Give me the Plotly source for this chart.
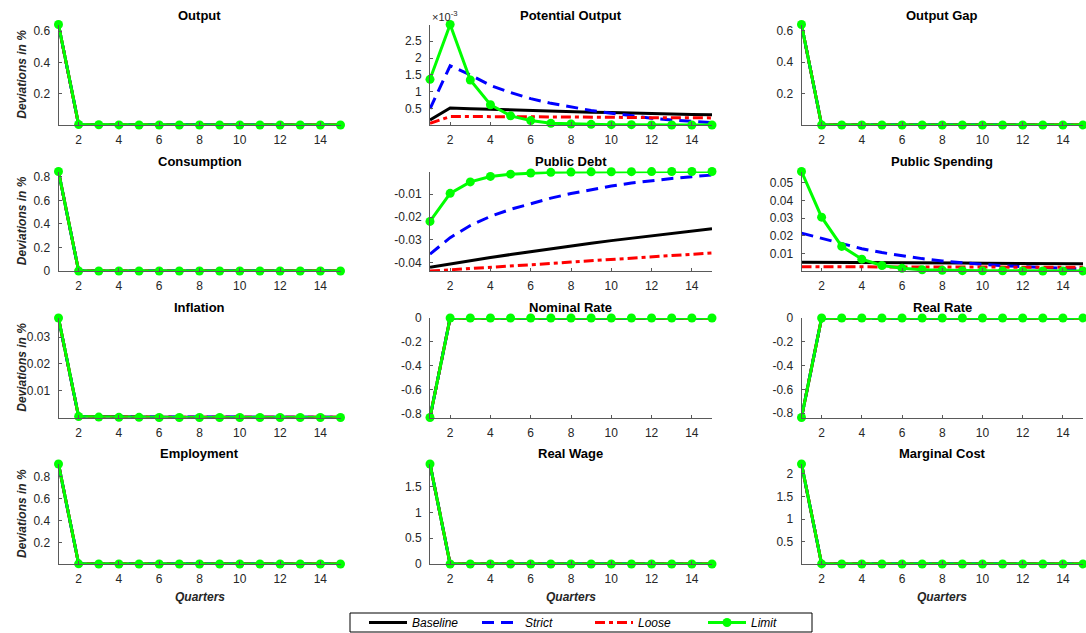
import math
import plotly.graph_objects as go

W, H = 1086, 633

quarters = list(range(1, 16))
series_names = ["Baseline", "Strict", "Loose", "Limit"]

# ---------------- data ----------------
output_baseline = [0.6405, 0.0006, 0.0005, 0.0005, 0.0005, 0.0005, 0.0004, 0.0004, 0.0004, 0.0004, 0.0004, 0.0004, 0.0003, 0.0003, 0.0003]
output_strict = [0.6410, 0.0018, 0.0015, 0.0012, 0.0010, 0.0008, 0.0007, 0.0006, 0.0005, 0.0004, 0.0003, 0.0002, 0.0002, 0.0001, 0.0001]
output_loose = [0.6401, 0.0003, 0.0003, 0.0003, 0.0003, 0.0003, 0.0003, 0.0003, 0.0002, 0.0002, 0.0002, 0.0002, 0.0002, 0.0002, 0.0002]
output_limit = [0.6420, 0.0030, 0.0014, 0.0006, 0.0003, 0.0002, 0.0001, 0.0001, 0.00005, 0.00004, 0.00004, 0.00003, 0.00003, 0.00003, 0.00003]

potential_baseline = [0.00017, 0.00052, 0.00050, 0.00048, 0.00046, 0.00045, 0.00043, 0.00042, 0.00040, 0.00039, 0.00037, 0.00036, 0.00035, 0.00033, 0.00032]
potential_strict = [0.00050, 0.00177, 0.00150, 0.00119, 0.00098, 0.00080, 0.00066, 0.00055, 0.00045, 0.00037, 0.00029, 0.00022, 0.00017, 0.00012, 0.00009]
potential_loose = [0.00007, 0.00027, 0.00027, 0.00027, 0.00026, 0.00026, 0.00026, 0.00025, 0.00025, 0.00025, 0.00024, 0.00024, 0.00024, 0.00023, 0.00023]
potential_limit = [0.00137, 0.00299, 0.00135, 0.00062, 0.00029, 0.00015, 0.00007, 0.00005, 0.00004, 0.00003, 0.00003, 0.00002, 0.00002, 0.00002, 0.00002]

gap_baseline = [0.6402, 0.0002, 0.0002, 0.0001, 0.0001, 0.0001, 0.0001, 0.0001, 0.0001, 0.0001, 0.0001, 0.0001, 0.0001, 0.0001, 0.0001]
gap_strict = [0.6402, 0.0002, 0.0002, 0.0001, 0.0001, 0.0001, 0.0001, 0.0001, 0.0001, 0.0001, 0.0001, 0.0001, 0.0001, 0.0001, 0.0001]
gap_loose = [0.6402, 0.0002, 0.0002, 0.0001, 0.0001, 0.0001, 0.0001, 0.0001, 0.0001, 0.0001, 0.0001, 0.0001, 0.0001, 0.0001, 0.0001]
gap_limit = [0.6403, 0.0002, 0.0001, 0.0001, 0.0001, 0.0001, 0.0001, 0.0001, 0.0001, 0.0001, 0.0001, 0.0001, 0.0001, 0.0001, 0.0001]

consumption_baseline = [0.8440, -0.0002, -0.0002, -0.0002, -0.0002, -0.0002, -0.0002, -0.0002, -0.0002, -0.0002, -0.0002, -0.0002, -0.0002, -0.0002, -0.0002]
consumption_strict = [0.8440, -0.0001, -0.0001, -0.0001, -0.0001, -0.0001, -0.0001, -0.0001, -0.0001, -0.0001, -0.0001, -0.0001, -0.0001, -0.0001, -0.0001]
consumption_loose = [0.8440, -0.0002, -0.0002, -0.0002, -0.0002, -0.0002, -0.0002, -0.0002, -0.0002, -0.0002, -0.0002, -0.0002, -0.0002, -0.0002, -0.0002]
consumption_limit = [0.8445, 0.0000, 0.0000, 0.0000, 0.0000, 0.0000, 0.0000, 0.0000, 0.0000, 0.0000, 0.0000, 0.0000, 0.0000, 0.0000, 0.0000]

debt_baseline = [-0.0420, -0.0405, -0.0391, -0.0377, -0.0364, -0.0351, -0.0339, -0.0327, -0.0315, -0.0303, -0.0292, -0.0281, -0.0271, -0.0261, -0.0251]
debt_strict = [-0.0362, -0.0290, -0.0237, -0.0197, -0.0166, -0.0140, -0.0117, -0.0097, -0.0080, -0.0064, -0.0051, -0.0040, -0.0031, -0.0023, -0.0016]
debt_loose = [-0.0436, -0.0431, -0.0425, -0.0420, -0.0414, -0.0409, -0.0403, -0.0397, -0.0391, -0.0386, -0.0380, -0.0374, -0.0368, -0.0363, -0.0357]
debt_limit = [-0.0219, -0.0096, -0.0046, -0.0022, -0.0012, -0.0007, -0.0004, -0.0003, -0.0002, -0.00015, -0.0001, -0.00008, -0.00006, -0.00005, -0.00004]

spending_baseline = [0.0050, 0.0050, 0.0049, 0.0049, 0.0048, 0.0048, 0.0047, 0.0046, 0.0046, 0.0045, 0.0045, 0.0044, 0.0043, 0.0043, 0.0042]
spending_strict = [0.0215, 0.0185, 0.0155, 0.0127, 0.0105, 0.0087, 0.0071, 0.0058, 0.0047, 0.0038, 0.0031, 0.0025, 0.0020, 0.0016, 0.0013]
spending_loose = [0.0025, 0.0025, 0.0025, 0.0024, 0.0024, 0.0024, 0.0024, 0.0023, 0.0023, 0.0023, 0.0023, 0.0022, 0.0022, 0.0022, 0.0022]
spending_limit = [0.0563, 0.0305, 0.0140, 0.0068, 0.0032, 0.0016, 0.0008, 0.0005, 0.0003, 0.0002, 0.0002, 0.0001, 0.0001, 0.0001, 0.0001]

inflation_baseline = [0.0370, 0.0003, 0.0003, 0.0002, 0.0002, 0.0002, 0.0001, 0.0001, 0.0001, 0.0001, 0.0001, 0.0001, 0.0001, 0.0001, 0.0001]
inflation_strict = [0.0369, 0.0004, 0.0003, 0.0003, 0.0002, 0.0002, 0.0002, 0.0001, 0.0001, 0.0001, 0.0001, 0.0001, 0.0001, 0.0001, 0.0001]
inflation_loose = [0.0370, 0.0002, 0.0002, 0.0002, 0.0002, 0.0002, 0.0001, 0.0001, 0.0001, 0.0001, 0.0001, 0.0001, 0.0001, 0.0001, 0.0001]
inflation_limit = [0.0371, 0.0004, 0.0002, 0.0001, 0.0001, 0.00005, 0.00005, 0.00004, 0.00004, 0.00004, 0.00004, 0.00004, 0.00004, 0.00004, 0.00004]

nominal_baseline = [-0.834, 0.00003, 0.00003, 0.00003, 0.00003, 0.00003, 0.00003, 0.00003, 0.00003, 0.00003, 0.00003, 0.00003, 0.00003, 0.00003, 0.00003]
nominal_strict = [-0.834, 0.00005, 0.00005, 0.00004, 0.00004, 0.00004, 0.00003, 0.00003, 0.00003, 0.00003, 0.00003, 0.00003, 0.00003, 0.00003, 0.00003]
nominal_loose = [-0.834, 0.00002, 0.00002, 0.00002, 0.00002, 0.00002, 0.00002, 0.00002, 0.00002, 0.00002, 0.00002, 0.00002, 0.00002, 0.00002, 0.00002]
nominal_limit = [-0.834, 0.00005, 0.00004, 0.00003, 0.00003, 0.00003, 0.00003, 0.00003, 0.00003, 0.00003, 0.00003, 0.00003, 0.00003, 0.00003, 0.00003]

real_baseline = [-0.836, 0.00003, 0.00003, 0.00003, 0.00003, 0.00003, 0.00003, 0.00003, 0.00003, 0.00003, 0.00003, 0.00003, 0.00003, 0.00003, 0.00003]
real_strict = [-0.836, 0.00005, 0.00004, 0.00004, 0.00004, 0.00003, 0.00003, 0.00003, 0.00003, 0.00003, 0.00003, 0.00003, 0.00003, 0.00003, 0.00003]
real_loose = [-0.836, 0.00002, 0.00002, 0.00002, 0.00002, 0.00002, 0.00002, 0.00002, 0.00002, 0.00002, 0.00002, 0.00002, 0.00002, 0.00002, 0.00002]
real_limit = [-0.836, 0.00005, 0.00004, 0.00003, 0.00003, 0.00003, 0.00003, 0.00003, 0.00003, 0.00003, 0.00003, 0.00003, 0.00003, 0.00003, 0.00003]

employment_baseline = [0.9150, 0.0026, 0.0025, 0.0024, 0.0024, 0.0023, 0.0023, 0.0022, 0.0022, 0.0022, 0.0021, 0.0021, 0.0021, 0.0021, 0.0020]
employment_strict = [0.9150, 0.0030, 0.0028, 0.0026, 0.0025, 0.0024, 0.0023, 0.0022, 0.0022, 0.0021, 0.0021, 0.0021, 0.0020, 0.0020, 0.0020]
employment_loose = [0.9150, 0.0024, 0.0024, 0.0023, 0.0023, 0.0023, 0.0022, 0.0022, 0.0022, 0.0021, 0.0021, 0.0021, 0.0021, 0.0020, 0.0020]
employment_limit = [0.9160, 0.0032, 0.0025, 0.0022, 0.0021, 0.0020, 0.0020, 0.0020, 0.0020, 0.0020, 0.0020, 0.0020, 0.0020, 0.0020, 0.0020]

wage_baseline = [1.9400, -0.0005, -0.0005, -0.0005, -0.0005, -0.0005, -0.0005, -0.0005, -0.0005, -0.0005, -0.0005, -0.0005, -0.0005, -0.0005, -0.0005]
wage_strict = [1.9400, -0.0003, -0.0003, -0.0003, -0.0003, -0.0003, -0.0003, -0.0003, -0.0003, -0.0003, -0.0003, -0.0003, -0.0003, -0.0003, -0.0003]
wage_loose = [1.9400, -0.0005, -0.0005, -0.0005, -0.0005, -0.0005, -0.0005, -0.0005, -0.0005, -0.0005, -0.0005, -0.0005, -0.0005, -0.0005, -0.0005]
wage_limit = [1.9410, 0.0000, 0.0000, 0.0000, 0.0000, 0.0000, 0.0000, 0.0000, 0.0000, 0.0000, 0.0000, 0.0000, 0.0000, 0.0000, 0.0000]

mc_baseline = [2.2200, 0.0060, 0.0058, 0.0056, 0.0055, 0.0054, 0.0053, 0.0052, 0.0052, 0.0051, 0.0051, 0.0051, 0.0050, 0.0050, 0.0050]
mc_strict = [2.2200, 0.0070, 0.0065, 0.0060, 0.0057, 0.0055, 0.0053, 0.0052, 0.0051, 0.0051, 0.0050, 0.0050, 0.0050, 0.0050, 0.0050]
mc_loose = [2.2200, 0.0055, 0.0054, 0.0053, 0.0053, 0.0052, 0.0052, 0.0051, 0.0051, 0.0051, 0.0050, 0.0050, 0.0050, 0.0050, 0.0050]
mc_limit = [2.2210, 0.0070, 0.0055, 0.0052, 0.0051, 0.0050, 0.0050, 0.0050, 0.0050, 0.0050, 0.0050, 0.0050, 0.0050, 0.0050, 0.0050]

panel_titles = ["Output", "Potential Output", "Output Gap",
                "Consumption", "Public Debt", "Public Spending",
                "Inflation", "Nominal Rate", "Real Rate",
                "Employment", "Real Wage", "Marginal Cost"]
panel_series = [
    [output_baseline, output_strict, output_loose, output_limit],
    [potential_baseline, potential_strict, potential_loose, potential_limit],
    [gap_baseline, gap_strict, gap_loose, gap_limit],
    [consumption_baseline, consumption_strict, consumption_loose, consumption_limit],
    [debt_baseline, debt_strict, debt_loose, debt_limit],
    [spending_baseline, spending_strict, spending_loose, spending_limit],
    [inflation_baseline, inflation_strict, inflation_loose, inflation_limit],
    [nominal_baseline, nominal_strict, nominal_loose, nominal_limit],
    [real_baseline, real_strict, real_loose, real_limit],
    [employment_baseline, employment_strict, employment_loose, employment_limit],
    [wage_baseline, wage_strict, wage_loose, wage_limit],
    [mc_baseline, mc_strict, mc_loose, mc_limit],
]
y_tick_steps = [0.2, 0.0005, 0.2, 0.2, 0.01, 0.01, 0.01, 0.2, 0.2, 0.2, 0.5, 0.5]
y_tick_scale = [1, 1000, 1, 1, 1, 1, 1, 1, 1, 1, 1, 1]
x_ticks = [2, 4, 6, 8, 10, 12, 14]
y_label = "Deviations in %"
x_label = "Quarters"

# ---------------- styling ----------------
FONT = "Liberation Sans"
AX_COLOR = "#5a5a5a"
TXT_COLOR = "#262626"
styles = [
    dict(line=dict(color="#000000", width=3), mode="lines"),
    dict(line=dict(color="#0000ff", width=3, dash="12px,7px"), mode="lines"),
    dict(line=dict(color="#ff0000", width=3, dash="10px,4px,4px,4px"), mode="lines"),
    dict(line=dict(color="#00ff00", width=3), mode="lines+markers",
         marker=dict(color="#00ff00", size=9, line=dict(width=0))),
]

col_px = [(58.5, 340.5), (430.0, 712.0), (801.5, 1083.0)]
row_px = [(24.5, 125.0), (171.5, 271.0), (318.0, 417.5), (464.0, 564.0)]
legend_box_px = (350, 613, 812, 632)


def fmt(v):
    s = ("%.6f" % v).rstrip("0").rstrip(".")
    if s in ("-0", ""):
        s = "0"
    return s


fig = go.Figure()
annotations = []

for i, (title, series) in enumerate(zip(panel_titles, panel_series)):
    r, c = divmod(i, 3)
    ax = "" if i == 0 else str(i + 1)
    x0, x1 = col_px[c]
    yt, yb = row_px[r]
    xdom = [x0 / W, x1 / W]
    ydom = [1 - yb / H, 1 - yt / H]

    for k, (name, ys) in enumerate(zip(series_names, series)):
        fig.add_trace(go.Scatter(
            x=quarters, y=ys, name="<i>%s</i>" % name, xaxis="x" + ax, yaxis="y" + ax,
            showlegend=(i == 0), cliponaxis=False, hoverinfo="skip", **styles[k]))

    ymin = min(min(s) for s in series)
    ymax = max(max(s) for s in series)
    step = y_tick_steps[i]
    kstart = math.ceil(ymin / step - 1e-9)
    kend = math.floor(ymax / step + 1e-9)
    tv = [k * step for k in range(kstart, kend + 1)]
    tt = [fmt(v * y_tick_scale[i]) for v in tv]

    fig.layout["xaxis" + ax] = dict(
        domain=xdom, anchor="y" + ax, range=[1, 15], tickvals=x_ticks,
        showline=True, linecolor=AX_COLOR, linewidth=1, ticks="inside", ticklen=3,
        tickcolor=AX_COLOR, showgrid=False, zeroline=False,
        tickfont=dict(family=FONT, size=12, color=TXT_COLOR), ticklabelstandoff=4)
    fig.layout["yaxis" + ax] = dict(
        domain=ydom, anchor="x" + ax, range=[ymin, ymax], tickvals=tv, ticktext=tt,
        showline=True, linecolor=AX_COLOR, linewidth=1, ticks="inside", ticklen=3,
        tickcolor=AX_COLOR, showgrid=False, zeroline=False,
        tickfont=dict(family=FONT, size=12, color=TXT_COLOR), ticklabelstandoff=5)

    annotations.append(dict(
        text="<b>%s</b>" % title, x=(xdom[0] + xdom[1]) / 2, y=ydom[1],
        xref="paper", yref="paper", xanchor="center", yanchor="bottom",
        yshift=(-1 if r == 0 else 1),
        showarrow=False, font=dict(family=FONT, size=13, color="#000000")))
    if c == 0:
        annotations.append(dict(
            text="<b><i>%s</i></b>" % y_label, x=22 / W, y=(ydom[0] + ydom[1]) / 2,
            xref="paper", yref="paper", xanchor="center", yanchor="middle",
            textangle=-90, showarrow=False,
            font=dict(family=FONT, size=12, color=TXT_COLOR)))
    if r == 3:
        annotations.append(dict(
            text="<b><i>%s</i></b>" % x_label, x=(xdom[0] + xdom[1]) / 2, y=1 - 597 / H,
            xref="paper", yref="paper", xanchor="center", yanchor="middle",
            showarrow=False, font=dict(family=FONT, size=12, color=TXT_COLOR)))
    if y_tick_scale[i] != 1:
        annotations.append(dict(
            text="\u00d710<sup>-3</sup>", x=xdom[0], y=ydom[1],
            xref="paper", yref="paper", xanchor="left", yanchor="bottom", yshift=-1,
            showarrow=False, font=dict(family=FONT, size=11, color=TXT_COLOR)))

bx0, by0, bx1, by1 = legend_box_px
fig.add_shape(type="rect", xref="paper", yref="paper",
              x0=bx0 / W, x1=bx1 / W, y0=1 - by1 / H, y1=1 - by0 / H,
              line=dict(color="#000000", width=1), fillcolor="white", layer="below")

fig.update_layout(
    width=W, height=H, margin=dict(l=0, r=0, t=0, b=0, autoexpand=False),
    paper_bgcolor="white", plot_bgcolor="white",
    annotations=annotations,
    legend=dict(orientation="h", x=590 / W, xanchor="center", y=1 - 622.5 / H,
                yanchor="middle", borderwidth=0,
                bgcolor="rgba(0,0,0,0)", font=dict(family=FONT, size=12, color="#000000"),
                entrywidth=60, itemwidth=38),
)

fig.write_html("out.html")
